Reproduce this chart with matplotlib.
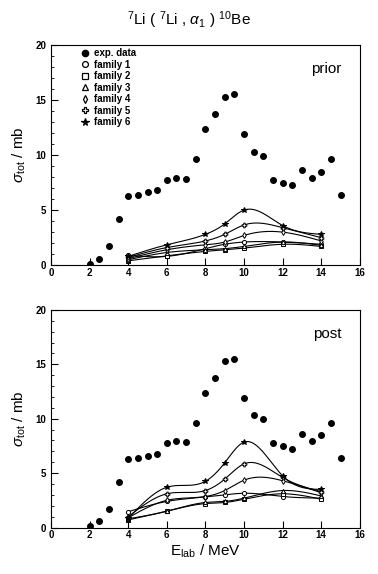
import numpy as np
import matplotlib.pyplot as plt
from matplotlib.lines import Line2D
from matplotlib.ticker import MultipleLocator

plt.rcParams['font.family'] = ['Liberation Sans', 'DejaVu Sans']
plt.rcParams['mathtext.fontset'] = 'custom'
plt.rcParams['mathtext.rm'] = 'Liberation Sans'
plt.rcParams['mathtext.it'] = 'Liberation Sans:italic'

# experimental data (same in both panels)
e_exp = [2, 2.5, 3, 3.5, 4, 4.5, 5, 5.5, 6, 6.5, 7, 7.5, 8, 8.5, 9, 9.5,
         10, 10.5, 11, 11.5, 12, 12.5, 13, 13.5, 14, 14.5, 15]
s_exp = [0.1, 0.6, 1.7, 4.15, 6.3, 6.4, 6.6, 6.8, 7.75, 7.95, 7.85, 9.6,
         12.4, 13.7, 15.3, 15.5, 11.9, 10.3, 9.95, 7.75, 7.5, 7.25, 8.6,
         7.95, 8.5, 9.65, 6.4]

# energies of the calculations
e_calc = [4, 6, 8, 9, 10, 12, 14]

family_names = ['family 1', 'family 2', 'family 3', 'family 4', 'family 5', 'family 6']

prior = {
    'family 1': [0.9, 0.8, 1.5, 1.9, 2.1, 2.1, 1.9],
    'family 2': [0.4, 0.85, 1.25, 1.4, 1.55, 1.9, 1.7],
    'family 3': [0.5, 1.15, 1.4, 1.5, 1.7, 2.1, 1.8],
    'family 4': [0.6, 1.4, 1.85, 2.1, 2.7, 3.0, 2.2],
    'family 5': [0.7, 1.6, 2.2, 2.8, 3.65, 3.4, 2.5],
    'family 6': [0.8, 1.85, 2.8, 3.75, 5.0, 3.6, 2.8],
}

post = {
    'family 1': [1.45, 2.4, 2.8, 3.0, 3.15, 2.85, 2.7],
    'family 2': [0.7, 1.5, 2.2, 2.3, 2.6, 3.1, 2.6],
    'family 3': [0.8, 1.5, 2.3, 2.4, 2.7, 3.4, 2.9],
    'family 4': [0.9, 2.5, 2.85, 3.4, 4.35, 4.3, 3.2],
    'family 5': [1.0, 3.1, 3.4, 4.45, 5.85, 4.6, 3.3],
    'family 6': [0.85, 3.7, 4.25, 5.95, 7.85, 4.75, 3.5],
}

markers = {
    'family 1': dict(marker='o', ms=3.0, mfc='white'),
    'family 2': dict(marker='s', ms=2.8, mfc='white'),
    'family 3': dict(marker='^', ms=3.0, mfc='white'),
    'family 4': dict(marker='d', ms=3.0, mfc='white'),
    'family 5': dict(marker='P', ms=3.4, mfc='white'),
    'family 6': dict(marker='*', ms=4.0, mfc='black'),
}


def natural_spline(x, y, n=300):
    x = np.asarray(x, float)
    y = np.asarray(y, float)
    k = len(x)
    h = np.diff(x)
    A = np.zeros((k, k))
    b = np.zeros(k)
    A[0, 0] = A[-1, -1] = 1
    for i in range(1, k - 1):
        A[i, i - 1] = h[i - 1]
        A[i, i] = 2 * (h[i - 1] + h[i])
        A[i, i + 1] = h[i]
        b[i] = 6 * ((y[i + 1] - y[i]) / h[i] - (y[i] - y[i - 1]) / h[i - 1])
    M = np.linalg.solve(A, b)
    xs = np.linspace(x[0], x[-1], n)
    j = np.clip(np.searchsorted(x, xs) - 1, 0, k - 2)
    t1 = x[j + 1] - xs
    t2 = xs - x[j]
    ys = (M[j] * t1**3 + M[j + 1] * t2**3) / (6 * h[j]) \
        + (y[j] / h[j] - M[j] * h[j] / 6) * t1 \
        + (y[j + 1] / h[j] - M[j + 1] * h[j] / 6) * t2
    return xs, ys


fig = plt.figure(figsize=(3.78, 5.74), dpi=100)
ax1 = fig.add_axes([0.135, 0.538, 0.817, 0.384])
ax2 = fig.add_axes([0.135, 0.081, 0.817, 0.379])

for ax, data, tag in [(ax1, prior, 'prior'), (ax2, post, 'post')]:
    ax.plot(e_exp, s_exp, 'o', color='black', ms=4, ls='none')
    for name in family_names:
        xs, ys = natural_spline(e_calc, data[name])
        ax.plot(xs, ys, color='black', lw=0.8)
        ax.plot(e_calc, data[name], ls='none', color='black', mew=0.7, **markers[name])
    ax.set_xlim(0, 16)
    ax.set_ylim(0, 20)
    ax.xaxis.set_major_locator(MultipleLocator(2))
    ax.yaxis.set_major_locator(MultipleLocator(5))
    ax.yaxis.set_minor_locator(MultipleLocator(1))
    ax.tick_params(direction='in', length=5, width=0.8, labelsize=7)
    ax.tick_params(which='minor', direction='in', length=2, width=0.6)
    ax.tick_params(axis='x', pad=2)
    for sp in ax.spines.values():
        sp.set_linewidth(0.8)
    for lab in ax.get_xticklabels() + ax.get_yticklabels():
        lab.set_fontweight('bold')
    ax.set_ylabel(r'$\sigma_{\rm tot}$ / mb', fontsize=11, labelpad=5)
    ax.text(0.94, 0.87, tag, transform=ax.transAxes, ha='right', fontsize=11)

ax2.set_xlabel(r'E$_{\rm lab}$ / MeV', fontsize=11, labelpad=2)

handles = [Line2D([], [], ls='none', marker='o', color='black', ms=4.5)]
for name in family_names:
    m = dict(markers[name])
    m['ms'] = m['ms'] * 1.4
    handles.append(Line2D([], [], ls='none', color='black', mew=0.9, **m))
labels = ['exp. data'] + family_names
leg = ax1.legend(handles, labels, loc='upper left', bbox_to_anchor=(0.08, 1.01),
                 frameon=False, fontsize=7, handlelength=0.8, handletextpad=0.5,
                 labelspacing=0.15, borderaxespad=0.2)
for t in leg.get_texts():
    t.set_fontweight('bold')

fig.text(0.5, 0.965, r'$^7$Li ( $^7$Li , $\alpha_1$ ) $^{10}$Be', ha='center',
         va='center', fontsize=11)

fig.savefig('out.png', dpi=100)
